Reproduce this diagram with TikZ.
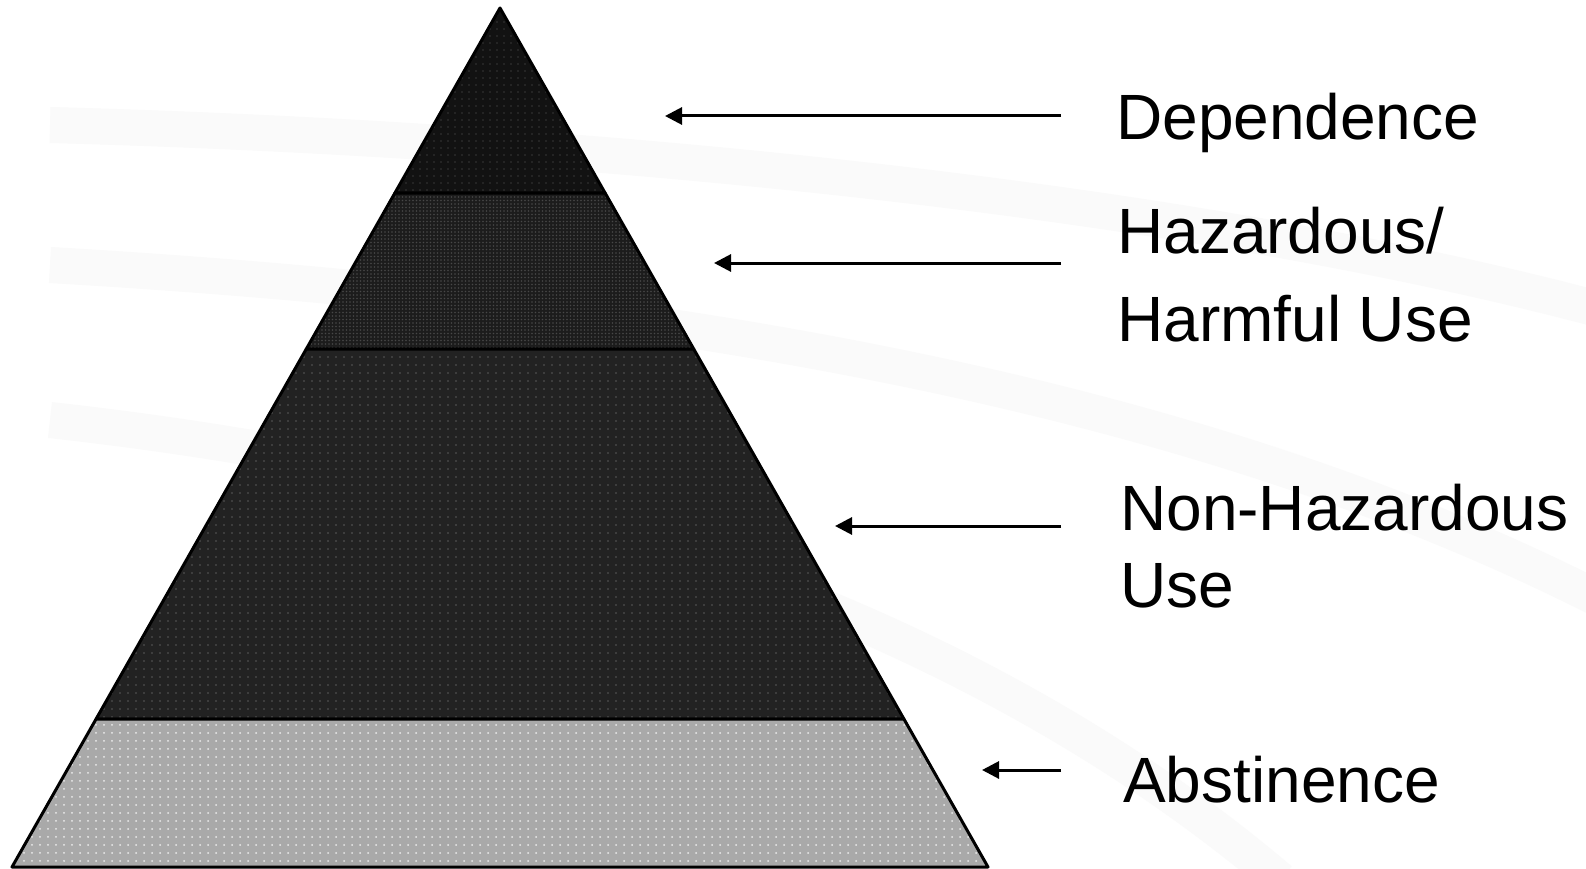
\documentclass[tikz,border=0pt]{standalone}
\usepackage{fontspec}
\setmainfont{Liberation Sans}
\usepackage{tikz}
\usetikzlibrary{arrows.meta, calc, patterns.meta}
\definecolor{topc}{HTML}{121212}
\definecolor{harmc}{HTML}{1C1C1C}
\definecolor{usec}{HTML}{222222}
\definecolor{abstc}{HTML}{A9A9A9}
\tikzset{
  layer/.style={draw=black, line width=3pt, line join=round},
  swoosh/.style={draw=black!2, line width=36pt},
  lbl/.style={anchor=base west, inner sep=0pt, align=left},
  arr/.style={-{Triangle[length=17pt, width=17pt]}, line width=3pt},
}

\begin{document}
\begin{tikzpicture}[x=1pt, y=-1pt]
  \useasboundingbox (0,0) rectangle (1586,869);
  \fill[white] (0,0) rectangle (1586,869);
  % faint background bands
  \draw[swoosh] (50,125) .. controls (600,140) and (1200,200) .. (1620,315);
  \draw[swoosh] (50,265) .. controls (650,300) and (1200,390) .. (1620,610);
  \draw[swoosh] (50,420) .. controls (500,470) and (950,600) .. (1280,880);

  \coordinate (apex) at (500,8);
  \coordinate (bl) at (12,867);
  \coordinate (br) at (988,867);
  \coordinate (l1) at ($(apex)!0.2154!(bl)$);
  \coordinate (r1) at ($(apex)!0.2154!(br)$);
  \coordinate (l2) at ($(apex)!0.3970!(bl)$);
  \coordinate (r2) at ($(apex)!0.3970!(br)$);
  \coordinate (l3) at ($(apex)!0.8277!(bl)$);
  \coordinate (r3) at ($(apex)!0.8277!(br)$);

  \path[layer, preaction={fill=topc}, pattern={Dots[distance=7pt, radius=0.8pt]}, pattern color=black!78]
    (apex) -- (r1) -- (l1) -- cycle;
  \path[layer, preaction={fill=harmc}, pattern={Dots[distance=3.5pt, radius=0.9pt]}, pattern color=black!72]
    (l1) -- (r1) -- (r2) -- (l2) -- cycle;
  \path[layer, preaction={fill=usec}, pattern={Dots[distance=8pt, radius=0.8pt]}, pattern color=black!65]
    (l2) -- (r2) -- (r3) -- (l3) -- cycle;
  \path[layer, preaction={fill=abstc}, pattern={Dots[distance=8pt, radius=1pt]}, pattern color=black!8]
    (l3) -- (r3) -- (br) -- (bl) -- cycle;

  \node[lbl, font=\fontsize{64}{88}\selectfont] (dep) at (1116,140) {Dependence};
  \node[lbl, font=\fontsize{64}{88}\selectfont] (harm) at (1117,341) {Hazardous/\\Harmful Use};
  \node[lbl, font=\fontsize{64}{77}\selectfont] (nonh) at (1120,607) {Non-Hazardous\\Use};
  \node[lbl, font=\fontsize{64}{88}\selectfont] (abst) at (1123,802) {Abstinence};

  \coordinate (dep0) at (1061,116);
  \coordinate (dep1) at (665,116);
  \coordinate (harm0) at (1061,263);
  \coordinate (harm1) at (714,263);
  \coordinate (nonh0) at (1061,526);
  \coordinate (nonh1) at (835,526);
  \coordinate (abst0) at (1061,770);
  \coordinate (abst1) at (982,770);
  \draw[arr] (dep0) -- (dep1);
  \draw[arr] (harm0) -- (harm1);
  \draw[arr] (nonh0) -- (nonh1);
  \draw[arr] (abst0) -- (abst1);
\end{tikzpicture}
\end{document}
